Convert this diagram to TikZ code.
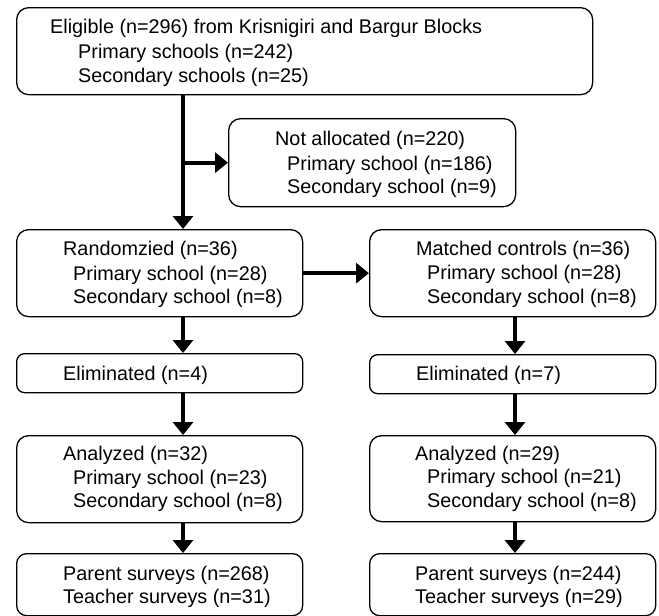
\documentclass[tikz,border=0pt]{standalone}
\usepackage{fontspec}
\setmainfont{Liberation Sans}
\usetikzlibrary{arrows.meta}
\tikzset{
    flowbox/.style={draw,line width=1.3pt,rounded corners=12pt,inner sep=0pt,anchor=north west},
    boxline/.style={anchor=base west,inner sep=0pt,font=\fontsize{19.8}{24}\selectfont},
    flowarrow/.style={line width=4.2pt,-{Triangle[width=20pt,length=13pt]}},
}
% box from (x1,y1) to (x2,y2), y counted downwards
\newcommand\FlowBox[6][]{%
    \node[flowbox,#1,minimum width={(#5-#3)*1pt},minimum height={(#6-#4)*1pt}] (#2) at (#3,#4) {};
}
\newcommand\BoxLine[4]{%
    \node[boxline] (#1) at (#2,#3) {#4};
}

\begin{document}
\begin{tikzpicture}[x=1pt,y=-1pt]
    \useasboundingbox (0,0) rectangle (659,616);
    \coordinate (LeftCol) at (183,0);
    \coordinate (RightCol) at (515,0);
    \begin{scope} % top
        \FlowBox{Eligible}{16}{7}{592}{94}
        \BoxLine{EligibleA}{50}{33}{Eligible (n=296) from Krisnigiri and Bargur Blocks}
        \BoxLine{EligibleB}{78}{58}{Primary schools (n=242)}
        \BoxLine{EligibleC}{78}{82}{Secondary schools (n=25)}
        \FlowBox{NotAlloc}{228}{118}{515}{206}
        \BoxLine{NotAllocA}{275}{145}{Not allocated (n=220)}
        \BoxLine{NotAllocB}{287}{170}{Primary school (n=186)}
        \BoxLine{NotAllocC}{287}{193}{Secondary school (n=9)}
    \end{scope}
    \begin{scope} % left column
        \FlowBox{Rand}{16}{229}{302}{316}
        \BoxLine{RandA}{63}{255}{Randomzied (n=36)}
        \BoxLine{RandB}{73}{280}{Primary school (n=28)}
        \BoxLine{RandC}{73}{303}{Secondary school (n=8)}
        \FlowBox[rounded corners=8pt]{ElimL}{16}{353}{302}{392}
        \BoxLine{ElimLA}{63}{380}{Eliminated (n=4)}
        \FlowBox{AnaL}{16}{435}{302}{522}
        \BoxLine{AnaLA}{63}{460}{Analyzed (n=32)}
        \BoxLine{AnaLB}{73}{484}{Primary school (n=23)}
        \BoxLine{AnaLC}{73}{507}{Secondary school (n=8)}
        \FlowBox[rounded corners=10pt]{SurvL}{16}{553}{302}{615}
        \BoxLine{SurvLA}{63}{580}{Parent surveys (n=268)}
        \BoxLine{SurvLB}{63}{603}{Teacher surveys (n=31)}
    \end{scope}
    \begin{scope} % right column
        \FlowBox{Matched}{369}{229}{655}{316}
        \BoxLine{MatchedA}{416}{255}{Matched controls (n=36)}
        \BoxLine{MatchedB}{427}{279}{Primary school (n=28)}
        \BoxLine{MatchedC}{427}{303}{Secondary school (n=8)}
        \FlowBox[rounded corners=8pt]{ElimR}{369}{354}{655}{393}
        \BoxLine{ElimRA}{416}{380}{Eliminated (n=7)}
        \FlowBox{AnaR}{369}{435}{655}{521}
        \BoxLine{AnaRA}{415}{460}{Analyzed (n=29)}
        \BoxLine{AnaRB}{427}{483}{Primary school (n=21)}
        \BoxLine{AnaRC}{427}{507}{Secondary school (n=8)}
        \FlowBox[rounded corners=10pt]{SurvR}{369}{553}{655}{615}
        \BoxLine{SurvRA}{415}{580}{Parent surveys (n=244)}
        \BoxLine{SurvRB}{415}{603}{Teacher surveys (n=29)}
    \end{scope}
    % arrows
    \coordinate (Branch) at (LeftCol |- NotAlloc.west);
    \draw[flowarrow] (Eligible.south -| LeftCol) -- (Rand.north -| LeftCol);
    \draw[flowarrow] ([xshift=-2pt]Branch) -- (NotAlloc.west);
    \draw[flowarrow] (Rand.east) -- (Matched.west);
    \draw[flowarrow] (Rand.south -| LeftCol) -- (ElimL.north -| LeftCol);
    \draw[flowarrow] (ElimL.south -| LeftCol) -- (AnaL.north -| LeftCol);
    \draw[flowarrow] (AnaL.south -| LeftCol) -- (SurvL.north -| LeftCol);
    \draw[flowarrow] (Matched.south -| RightCol) -- (ElimR.north -| RightCol);
    \draw[flowarrow] (ElimR.south -| RightCol) -- (AnaR.north -| RightCol);
    \draw[flowarrow] (AnaR.south -| RightCol) -- (SurvR.north -| RightCol);
\end{tikzpicture}
\end{document}
